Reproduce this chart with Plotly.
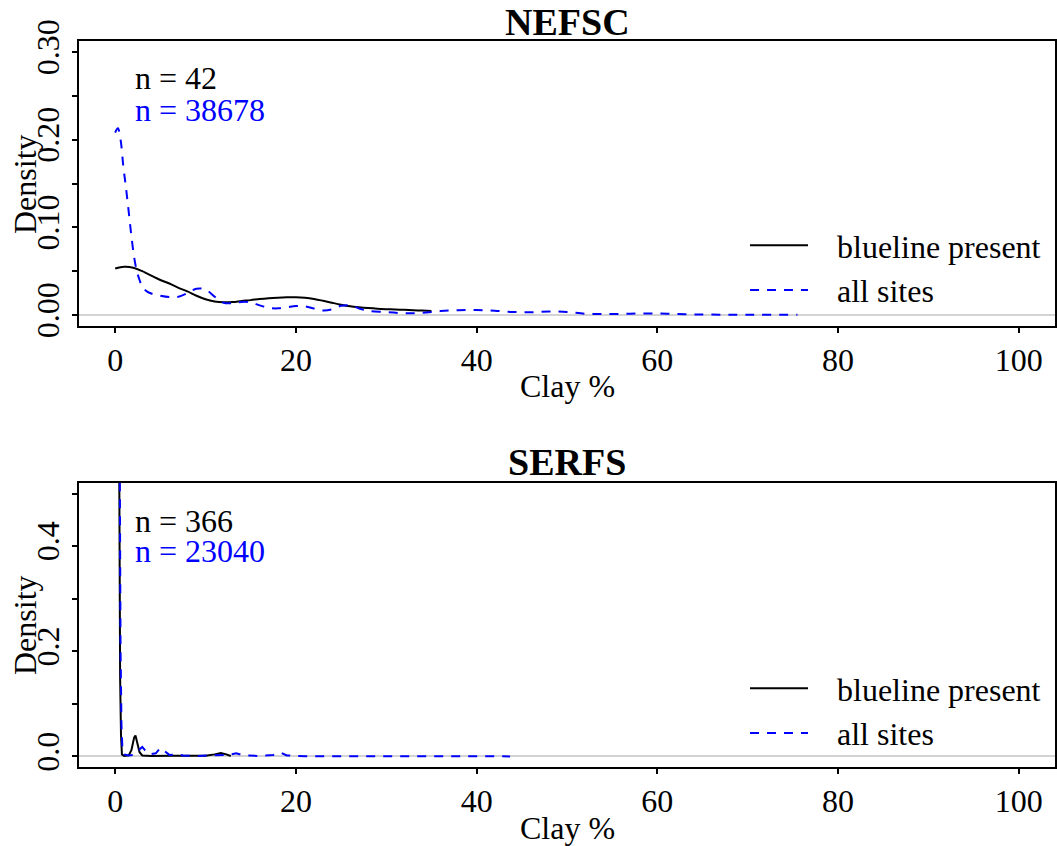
import plotly.graph_objects as go

# ---------------- data ----------------
nefsc_present_x = [0, 1, 2, 3, 3.5, 4, 5, 6, 7, 8, 9, 10, 11, 12, 13, 14, 15, 16, 17, 18, 19, 20,
                   21, 22, 23, 24, 25, 26, 27, 28, 29, 30, 31, 32, 33, 34, 35]
nefsc_present_y = [0.053, 0.055, 0.054, 0.050, 0.0475, 0.045, 0.040, 0.036, 0.031, 0.027, 0.022,
                   0.018, 0.0155, 0.0145, 0.0148, 0.016, 0.017, 0.0183, 0.0192, 0.0198, 0.0202,
                   0.0202, 0.0196, 0.0183, 0.0163, 0.014, 0.0118, 0.0100, 0.0088, 0.0079, 0.0072,
                   0.0067, 0.0063, 0.0059, 0.0055, 0.0051, 0.0047]

nefsc_all_x = [0.0, 0.3, 0.6, 0.9, 1.2, 1.5, 1.8, 2.1, 2.4, 2.7, 3.0, 3.5, 4.0, 5.0, 6.0, 7.0, 8.0,
               9.0, 10.0, 11.0, 12.0, 13.0, 14.0, 15.0, 16.0, 17.0, 18.0, 19.0, 20.0, 21.0, 22.0,
               23.0, 24.0, 25.0, 26.0, 27.0, 28.0, 30.0, 32.0, 34.0, 36.0, 38.0, 40.0, 42.0, 44.0,
               46.0, 48.0, 50.0, 52.0, 54.0, 56.0, 58.0, 60.0, 62.0, 64.0, 66.0, 70.0, 75.5]
nefsc_all_y = [0.208, 0.213, 0.200, 0.170, 0.145, 0.118, 0.090, 0.066, 0.050, 0.040, 0.032, 0.027,
               0.0245, 0.022, 0.0205, 0.0208, 0.025, 0.030, 0.029, 0.021, 0.014, 0.0135, 0.015,
               0.0145, 0.011, 0.0082, 0.0076, 0.0088, 0.0102, 0.0098, 0.0075, 0.0052, 0.0065,
               0.0105, 0.011, 0.0075, 0.0048, 0.0035, 0.0020, 0.0025, 0.0045, 0.0055, 0.0057,
               0.0050, 0.0035, 0.0032, 0.0040, 0.0035, 0.0015, 0.0012, 0.0013, 0.0017, 0.0018,
               0.0012, 0.0007, 0.0005, 0.0004, 0.0004]

serfs_present_x = [0.30, 0.45, 0.55, 0.65, 0.75, 1.0, 1.5, 1.8, 2.1, 2.25, 2.4, 2.7, 3.0, 4.0, 6.0,
                   8.0, 10.0, 11.0, 11.7, 12.3, 12.8]
serfs_present_y = [1.2, 0.40, 0.15, 0.04, 0.004, 0.001, 0.002, 0.012, 0.036, 0.040, 0.030, 0.008,
                   0.002, 0.001, 0.0015, 0.001, 0.0015, 0.004, 0.0065, 0.004, 0.001]

serfs_all_x = [0.35, 0.5, 0.6, 0.7, 0.8, 1.0, 1.5, 2.0, 2.5, 3.0, 3.3, 3.8, 4.5, 5.0, 5.5, 6.0, 6.8,
               7.5, 9.0, 11.0, 12.5, 13.4, 14.2, 16.0, 17.5, 18.3, 19.0, 21.0, 25.0, 30.0, 35.0,
               40.0, 43.7]
serfs_all_y = [1.2, 0.45, 0.2, 0.06, 0.015, 0.004, 0.002, 0.003, 0.010, 0.018, 0.012, 0.004, 0.006,
               0.016, 0.010, 0.003, 0.004, 0.002, 0.001, 0.0015, 0.003, 0.006, 0.002, 0.001, 0.003,
               0.0075, 0.002, 0.0005, 0.0003, 0.0002, 0.0002, 0.0002, 0.0002]

x_ticks = [0, 20, 40, 60, 80, 100]
top_y_ticks = [0, 0.05, 0.10, 0.15, 0.20, 0.25, 0.30]
top_y_text = ["0.00", "", "0.10", "", "0.20", "", "0.30"]
bot_y_ticks = [0, 0.1, 0.2, 0.3, 0.4, 0.5]
bot_y_text = ["0.0", "", "0.2", "", "0.4", ""]

titles = ["NEFSC", "SERFS"]
n_present = ["n = 42", "n = 366"]
n_all = ["n = 38678", "n = 23040"]
series_names = ["blueline present", "all sites"]

# ---------------- figure ----------------
W, H = 1057, 846
ML, MR = 79, 2
PW = W - ML - MR
FONT = "Liberation Serif"
FS = 32
GAP = "\u00a0" * 3  # visual gap between legend sample line and its label

def py(p):  # pixel row -> paper y
    return 1 - p / H

def px(p):  # pixel column -> paper x
    return (p - ML) / PW

fig = go.Figure()

DASH = "9px,8px"
fig.add_trace(go.Scatter(x=nefsc_present_x, y=nefsc_present_y, mode="lines", line_shape="spline",
                         line=dict(color="black", width=2), name=GAP + series_names[0],
                         xaxis="x", yaxis="y", legend="legend"))
fig.add_trace(go.Scatter(x=nefsc_all_x, y=nefsc_all_y, mode="lines", line_shape="spline",
                         line=dict(color="blue", width=2, dash=DASH), name=GAP + series_names[1],
                         xaxis="x", yaxis="y", legend="legend"))
fig.add_trace(go.Scatter(x=serfs_present_x, y=serfs_present_y, mode="lines",
                         line=dict(color="black", width=2), name=GAP + series_names[0],
                         xaxis="x2", yaxis="y2", legend="legend2"))
fig.add_trace(go.Scatter(x=serfs_all_x, y=serfs_all_y, mode="lines",
                         line=dict(color="blue", width=2, dash=DASH), name=GAP + series_names[1],
                         xaxis="x2", yaxis="y2", legend="legend2"))

axis_common = dict(showline=True, mirror=True, linecolor="black", linewidth=2,
                   ticks="outside", ticklen=5, tickwidth=2, tickcolor="black",
                   showgrid=False, automargin=False,
                   tickfont=dict(family=FONT, size=FS, color="black"))

top_dom = [py(326), py(41)]
bot_dom = [py(767), py(483)]

fig.update_layout(
    template="none",
    width=W, height=H,
    margin=dict(l=ML, r=MR, t=0, b=0, autoexpand=False),
    paper_bgcolor="white", plot_bgcolor="white",
    font=dict(family=FONT, size=FS, color="black"),
    xaxis=dict(axis_common, domain=[0, 1], range=[-4, 104], tickvals=x_ticks,
               zeroline=False, anchor="y", ticklabelstandoff=0),
    yaxis=dict(axis_common, domain=top_dom, range=[-0.0125, 0.3125], tickvals=top_y_ticks,
               ticktext=top_y_text, tickangle=-90, zeroline=True, zerolinecolor="#d3d3d3",
               zerolinewidth=2, anchor="x"),
    xaxis2=dict(axis_common, domain=[0, 1], range=[-4, 104], tickvals=x_ticks,
                zeroline=False, anchor="y2", ticklabelstandoff=0),
    yaxis2=dict(axis_common, domain=bot_dom, range=[-0.02, 0.52], tickvals=bot_y_ticks,
                ticktext=bot_y_text, tickangle=-90, zeroline=True, zerolinecolor="#d3d3d3",
                zerolinewidth=2, anchor="x2"),
    legend=dict(x=px(745), y=py(268), xanchor="left", yanchor="middle",
                bgcolor="rgba(0,0,0,0)", font=dict(family=FONT, size=FS),
                itemwidth=58, tracegroupgap=0),
    legend2=dict(x=px(745), y=py(711), xanchor="left", yanchor="middle",
                 bgcolor="rgba(0,0,0,0)", font=dict(family=FONT, size=FS),
                 itemwidth=58, tracegroupgap=0),
    showlegend=True,
)

ann = []
# panel titles
ann.append(dict(text="<b>%s</b>" % titles[0], x=0.5, y=py(22), xref="paper", yref="paper",
                showarrow=False, font=dict(size=38), xanchor="center", yanchor="middle"))
ann.append(dict(text="<b>%s</b>" % titles[1], x=0.5, y=py(462), xref="paper", yref="paper",
                showarrow=False, font=dict(size=38), xanchor="center", yanchor="middle"))
# axis titles
for yc in [184, 625]:
    ann.append(dict(text="Density", x=px(25), y=py(yc), xref="paper", yref="paper",
                    showarrow=False, textangle=-90, xanchor="center", yanchor="middle"))
for yc in [386, 828]:
    ann.append(dict(text="Clay %", x=0.5, y=py(yc), xref="paper", yref="paper",
                    showarrow=False, xanchor="center", yanchor="middle"))
# sample sizes
ann.append(dict(text=n_present[0], x=2.0, y=0.270, xref="x", yref="y", showarrow=False,
                xanchor="left", yanchor="middle", font=dict(color="black")))
ann.append(dict(text=n_all[0], x=2.0, y=0.2335, xref="x", yref="y", showarrow=False,
                xanchor="left", yanchor="middle", font=dict(color="blue")))
ann.append(dict(text=n_present[1], x=2.0, y=0.448, xref="x2", yref="y2", showarrow=False,
                xanchor="left", yanchor="middle", font=dict(color="black")))
ann.append(dict(text=n_all[1], x=2.0, y=0.391, xref="x2", yref="y2", showarrow=False,
                xanchor="left", yanchor="middle", font=dict(color="blue")))
fig.update_layout(annotations=ann)

fig.write_html("out.html", config={"displayModeBar": False},
               post_script="document.body.style.margin='0';")
